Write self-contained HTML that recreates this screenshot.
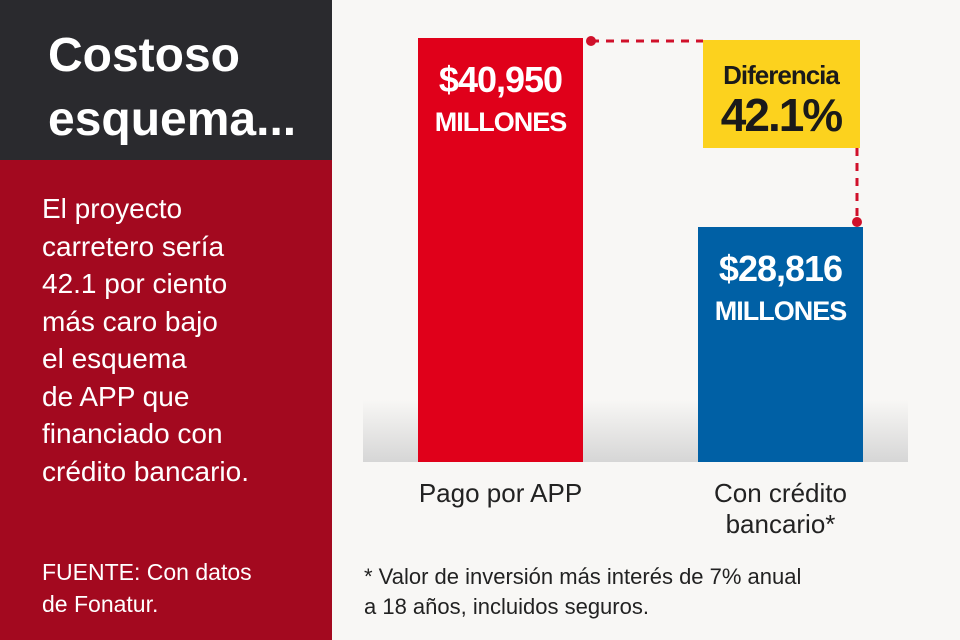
<!DOCTYPE html>
<html><head><meta charset="utf-8"><style>
body{margin:0;width:960px;height:640px;overflow:hidden;background:#f8f7f5;font-family:"Liberation Sans",sans-serif;position:relative}
.abs{position:absolute}
</style></head><body>
<div class="abs" style="left:0;top:0;width:332px;height:160px;background:#2a2a2e"></div>
<div class="abs" style="left:0;top:160px;width:332px;height:480px;background:#a3091f"></div>
<div class="abs" style="left:48px;top:24px;color:#fff;font-weight:bold;font-size:48px;line-height:64px">Costoso<br>esquema...</div>
<div class="abs" style="left:42px;top:190px;color:#fff;font-size:28px;line-height:37.5px">El proyecto<br>carretero sería<br>42.1 por ciento<br>más caro bajo<br>el esquema<br>de APP que<br>financiado con<br>crédito bancario.</div>
<div class="abs" style="left:42px;top:556px;color:#fff;font-size:23px;line-height:32px">FUENTE: Con datos<br>de Fonatur.</div>
<svg class="abs" style="left:0;top:0" width="960" height="640" id="chart">
<defs><linearGradient id="gr" x1="0" y1="0" x2="0" y2="1"><stop offset="0" stop-color="#f8f7f5"/><stop offset="1" stop-color="#d6d6d6"/></linearGradient></defs>
<rect x="363" y="400" width="545" height="62" fill="url(#gr)"/>
</svg>
<div class="abs" style="left:364px;top:562px;color:#222;font-size:22px;line-height:30px">* Valor de inversión más interés de 7% anual<br>a 18 años, incluidos seguros.</div>
<script>
const categories=["Pago por APP","Con crédito bancario*"];
const values=[40950,28816];
const valueLabels=["$40,950","$28,816"];
const diffLabel="42.1%";
const svg=document.getElementById('chart');
const NS="http://www.w3.org/2000/svg";
const base=462,k=424/(40950-13729),v0=13729;
function y(v){return base-k*(v-v0);}
const xs=[418,698],bw=165,colors=["#e0001a","#0060a5"];
function mk(t,a){const e=document.createElementNS(NS,t);for(const q in a)e.setAttribute(q,a[q]);svg.appendChild(e);return e;}
values.forEach((v,i)=>{
 const r=mk('rect',{x:xs[i],y:y(v),width:bw,height:base-y(v),fill:colors[i]});
 
 
 const t=mk('text',{x:xs[i]+bw/2,y:y(v)+54,'text-anchor':'middle',fill:'#fff','font-size':36,'font-weight':'bold','font-family':'Liberation Sans','letter-spacing':'-1'});t.textContent=valueLabels[i];
 
 
 const m=mk('text',{x:xs[i]+bw/2,y:y(v)+93,'text-anchor':'middle',fill:'#fff','font-size':27,'font-weight':'bold','font-family':'Liberation Sans','letter-spacing':'-1'});m.textContent="MILLONES";
 
 
 const lines=i==0?[categories[0]]:["Con crédito","bancario*"];
 lines.forEach((l,j)=>{const c=mk('text',{x:xs[i]+bw/2,y:502+j*31,'text-anchor':'middle',fill:'#222','font-size':26,'font-family':'Liberation Sans'});c.textContent=l;
 
 });
});
const y0=y(values[0])+3,y1=y(values[1])-5,xr=857;
const d=mk('path',{d:`M${xs[0]+bw+8},${y0} H703 M${xr},148 V${y1}`,stroke:'#d0102a','stroke-width':3,'stroke-dasharray':'8,7',fill:'none'});


[[xs[0]+bw+8,y0],[xr,y1]].forEach(p=>{const c=mk('circle',{cx:p[0],cy:p[1],r:5,fill:'#d0102a'});

});
const b=mk('rect',{x:703,y:40,width:157,height:108,fill:'#fcd21e'});


const t1=mk('text',{x:781,y:84,'text-anchor':'middle',fill:'#1a1a1a','font-size':26,'font-weight':'bold','font-family':'Liberation Sans','letter-spacing':'-1'});t1.textContent="Diferencia";


const t2=mk('text',{x:781,y:131,'text-anchor':'middle',fill:'#1a1a1a','font-size':46,'font-weight':'bold','font-family':'Liberation Sans','letter-spacing':'-2'});t2.textContent=diffLabel;


</script>
</body></html>
